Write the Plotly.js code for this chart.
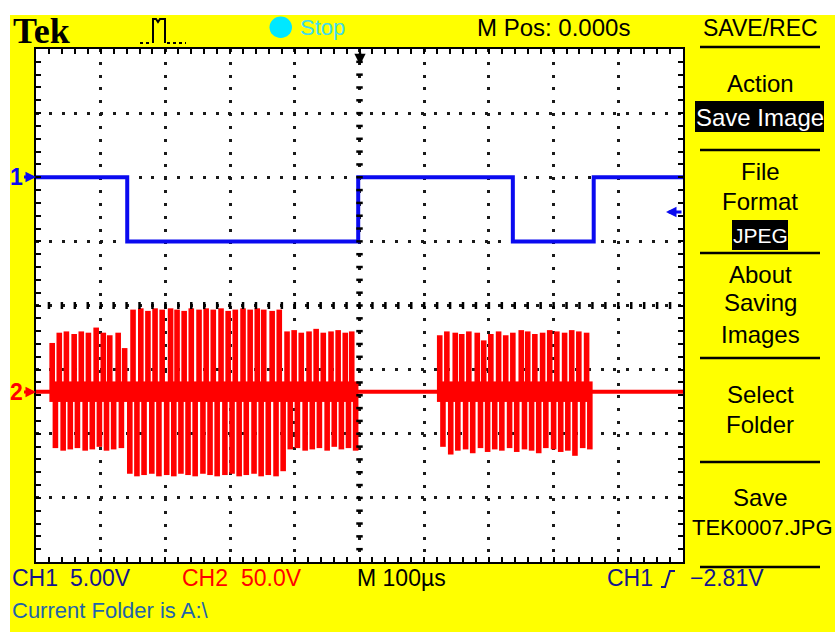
<!DOCTYPE html>
<html><head><meta charset="utf-8">
<script src="https://cdn.plot.ly/plotly-3.0.1.min.js"></script>
<style>html,body{margin:0;padding:0;background:#fff;}#chart{width:835px;height:632px;}</style>
</head><body><div id="chart"></div>
<script>
// ---------------- DATA ----------------
// Time axis: 100 µs/div, M Pos 0.000 s at screen centre
const timeRange = [-500, 500];           // µs
const timeMajorTicks = [-500,-400,-300,-200,-100,0,100,200,300,400,500];
// CH1: 5.00 V/div, ground marker two divisions above centre
const ch1Range = [-30, 10];              // V
const ch1Times  = [-500, -359, -2, 237, 362, 500];   // µs, level changes
const ch1Levels = [0, -5, 0, -5, 0, 0];              // V
// CH2: 50.0 V/div, ground marker ~1.35 div below centre
const ch2Range = [-132.8, 267.2];        // V
const ch2IdleTimes  = [-500, 500];
const ch2IdleLevels = [0, 0];
// CH2 burst: positive peaks (time µs, volts)
const ch2PeakTimes = [
 -475,-464,-453,-441,-430,-419,-407,-396,-386,-373,-363,
 -350,-338,-327,-316,-305,-292,-282,-271,-260,-248,-237,-226,-214,-203,-192,-180,-169,-158,-148,-135,-124,
 -112,-101,-90,-78,-67,-56,-44,-33,-22,-12,
 124,135,148,158,169,182,192,203,215,226,237,250,260,271,283,294,305,317,328,339,351
];
const ch2PeakVolts = [
 38,46,47,45,47,46,50,46,44,46,34,
 64,65,63,65,64,65,64,63,65,64,65,64,65,63,64,65,64,65,64,63,64,
 47,48,46,47,49,46,47,48,46,47,
 44,47,46,45,47,46,40,45,47,44,46,48,47,45,46,48,47,46,48,47,46
];
// CH2 burst: negative peaks (time µs, volts)
const ch2TroughTimes = [
 -470,-458,-447,-436,-424,-413,-402,-391,-380,-368,
 -355,-344,-333,-321,-310,-298,-287,-276,-265,-254,-242,-231,-220,-208,-197,-186,-175,-163,-152,-141,-129,
 -118,-107,-96,-84,-73,-62,-50,-39,-28,-17,-6,
 129,141,152,164,175,187,198,209,220,232,243,255,266,277,288,300,311,322,333,345,356
];
const ch2TroughVolts = [
 -44,-46,-45,-44,-46,-45,-43,-46,-45,-44,
 -64,-66,-65,-64,-66,-65,-66,-64,-65,-66,-64,-65,-66,-65,-64,-66,-65,-64,-66,-65,-66,
 -62,-45,-44,-46,-45,-44,-46,-43,-45,-44,-46,
 -43,-49,-46,-45,-48,-44,-47,-45,-46,-44,-47,-45,-46,-48,-44,-45,-47,-46,-50,-44,-45
];

// ---------------- STYLE / LAYOUT ----------------
const W = 835, H = 632, L = 36, R = 683, T = 49, B = 562;
const px = x => (x - L) / (R - L);
const py = y => (B - y) / (B - T);
const BLUE = '#0a0af0', RED = '#ff0000', NAVY = '#14148c', YEL = '#ffff00';
const FONT = 'Liberation Sans, Arial, sans-serif';
const STROKE_PX = 5.6;   // drawn width of each CH2 stroke, px
const OVERLAP = 8;       // V, each stroke reaches past ground

// each stroke = vertical segment from just across ground to its peak
function strokes(times, volts, from) {
  const xs = [], ys = [];
  times.forEach((t, i) => { xs.push(t, t, null); ys.push(from, volts[i], null); });
  return {xs, ys};
}
const up = strokes(ch2PeakTimes, ch2PeakVolts, -OVERLAP);
const dn = strokes(ch2TroughTimes, ch2TroughVolts, OVERLAP);

const traces = [
  {type:'scatter', mode:'lines', x: ch2IdleTimes, y: ch2IdleLevels, yaxis:'y2',
   line:{color:RED, width:4}, hoverinfo:'skip'},
  {type:'scatter', mode:'lines', x: up.xs, y: up.ys, yaxis:'y2', connectgaps:false,
   line:{color:RED, width:STROKE_PX}, hoverinfo:'skip'},
  {type:'scatter', mode:'lines', x: dn.xs, y: dn.ys, yaxis:'y2', connectgaps:false,
   line:{color:RED, width:STROKE_PX}, hoverinfo:'skip'},
  {type:'scatter', mode:'lines', x: ch1Times, y: ch1Levels, line:{color:BLUE, width:4, shape:'hv'},
   hoverinfo:'skip'}
];

const shapes = [];
const annotations = [];
function line(x0,y0,x1,y1,w,c,dash){ shapes.push({type:'line',xref:'paper',yref:'paper',x0:px(x0),y0:py(y0),x1:px(x1),y1:py(y1),line:{color:c||'#000',width:w||2,dash:dash||'solid'}}); }
function rect(x0,y0,x1,y1,c){ shapes.push({type:'rect',xref:'paper',yref:'paper',x0:px(x0),y0:py(y0),x1:px(x1),y1:py(y1),fillcolor:c,line:{width:0}}); }
function txt(t,x,y,size,color,anchor,family,bold){
  annotations.push({xref:'paper',yref:'paper',x:px(x),y:py(y),text:bold?'<b>'+t+'</b>':t,showarrow:false,
    xanchor:anchor||'center',yanchor:'middle',borderpad:0,font:{family:family||FONT,size:size,color:color||'#000'}});
}
// white outer strips
rect(0,0,835,15,'#ffffff');
rect(0,0,10,632,'#ffffff');

// centre cross dashes (every 1/5 division)
for (let t = timeRange[0] + 20; t < timeRange[1]; t += 20) {
  shapes.push({type:'line', xref:'x', yref:'paper', x0:t, x1:t, y0:py(309), y1:py(302), line:{color:'#000', width:2.5}});
}
for (let v = ch1Range[0] + 1; v < ch1Range[1]; v += 1) {
  shapes.push({type:'line', xref:'x', yref:'y', x0:-5, x1:5, y0:v, y1:v, line:{color:'#000', width:2.5}});
}

// top bar
txt('Tek', 12, 30.5, 36, '#000', 'left', 'Liberation Serif, Times New Roman, serif', true);
line(140,43,152,43,2,'#000','dot');
line(167,43,186,43,2,'#000','dot');
shapes.push({type:'path',xref:'paper',yref:'paper',
  path:`M ${px(153)} ${py(43)} L ${px(153)} ${py(19)} L ${px(156)} ${py(19)} L ${px(158)} ${py(22)} L ${px(160)} ${py(19)} L ${px(165)} ${py(19)} L ${px(165)} ${py(43)}`,
  line:{color:'#000',width:2}});
shapes.push({type:'circle',xref:'paper',yref:'paper',x0:px(269.5),x1:px(292),y0:py(38),y1:py(16.5),fillcolor:'#00e8ff',line:{width:0}});
txt('Stop', 299, 28, 22, '#40dcec', 'left');
txt('M Pos: 0.000s', 476, 28, 24, '#000', 'left');
txt('SAVE/REC', 760, 28, 23, '#000', 'center');
line(700,47,820,47,2.5);

// trigger markers
annotations.push({xref:'paper',yref:'paper',x:px(360),y:py(65),ax:0,ay:-14,text:'',showarrow:true,arrowhead:2,arrowsize:0.9,arrowwidth:2.5,arrowcolor:'#000',standoff:0});
annotations.push({xref:'paper',yref:'paper',x:px(36),y:py(177),ax:-20,ay:0,text:'<b>1</b>',showarrow:true,arrowhead:2,arrowsize:0.7,arrowwidth:3,arrowcolor:BLUE,standoff:0,font:{family:FONT,size:23,color:BLUE}});
annotations.push({xref:'paper',yref:'paper',x:px(36),y:py(392),ax:-20,ay:0,text:'<b>2</b>',showarrow:true,arrowhead:2,arrowsize:0.7,arrowwidth:3,arrowcolor:RED,standoff:0,font:{family:FONT,size:23,color:RED}});
annotations.push({xref:'paper',yref:'paper',x:px(666),y:py(212),ax:17,ay:0,text:'',showarrow:true,arrowhead:2,arrowsize:0.7,arrowwidth:3,arrowcolor:BLUE,standoff:0});

// right menu
txt('Action', 760, 83, 24);
rect(695,101,824,132,'#000');
txt('Save Image', 760, 117, 24, '#fff');
line(700,150,820,150,2.5);
txt('File', 760, 171, 24);
txt('Format', 760, 201, 24);
rect(732,220,788,250,'#000');
txt('JPEG', 760, 235, 21, '#fff');
line(700,253,820,253,2.5);
txt('About', 760, 274, 24);
txt('Saving', 760, 302, 24);
txt('Images', 760, 334, 24);
line(700,358,820,358,2.5);
txt('Select', 760, 394, 24);
txt('Folder', 760, 424, 24);
line(700,462,820,462,2.5);
txt('Save', 760, 497, 24);
txt('TEK0007.JPG', 762, 527, 22);
line(700,567,820,567,2.5);

// bottom readouts
txt('CH1', 11, 578, 23, NAVY, 'left');
txt('5.00V', 69, 578, 23, NAVY, 'left');
txt('CH2', 181, 578, 23, RED, 'left');
txt('50.0V', 240, 578, 23, RED, 'left');
txt('M 100µs', 356, 578, 23, '#000', 'left');
txt('CH1', 606, 578, 23, NAVY, 'left');
shapes.push({type:'path',xref:'paper',yref:'paper',
  path:`M ${px(661)} ${py(587)} L ${px(665)} ${py(587)} L ${px(670)} ${py(571)} L ${px(675)} ${py(571)}`,
  line:{color:NAVY,width:2}});
txt('−2.81V', 689, 578, 23, NAVY, 'left');
txt('Current Folder is A:\\', 11, 610, 22, '#1f64aa', 'left');

const axisCommon = {
  showline:true, linecolor:'#000', linewidth:2, mirror:'allticks',
  ticks:'inside', ticklen:5, tickwidth:2, tickcolor:'#000', showticklabels:false,
  showgrid:true, gridcolor:'#1a1a1a', gridwidth:3, griddash:'3px,9.83px',
  zeroline:false, fixedrange:true
};
const layout = {
  width:W, height:H, margin:{l:L, r:W-R, t:T, b:H-B, pad:0},
  paper_bgcolor:YEL, plot_bgcolor:'#ffffff', showlegend:false,
  xaxis: Object.assign({}, axisCommon, {range:timeRange, tickvals:timeMajorTicks,
    minor:{dtick:20, tick0:0, ticks:'inside', ticklen:5, tickwidth:2, tickcolor:'#000', showgrid:false}}),
  yaxis: Object.assign({}, axisCommon, {range:ch1Range, dtick:5, tick0:0,
    minor:{dtick:1, tick0:0, ticks:'inside', ticklen:5, tickwidth:2, tickcolor:'#000', showgrid:false}}),
  yaxis2: {overlaying:'y', range:ch2Range, visible:false, fixedrange:true},
  shapes, annotations
};
Plotly.newPlot('chart', traces, layout, {staticPlot:true, displayModeBar:false});
</script></body></html>
